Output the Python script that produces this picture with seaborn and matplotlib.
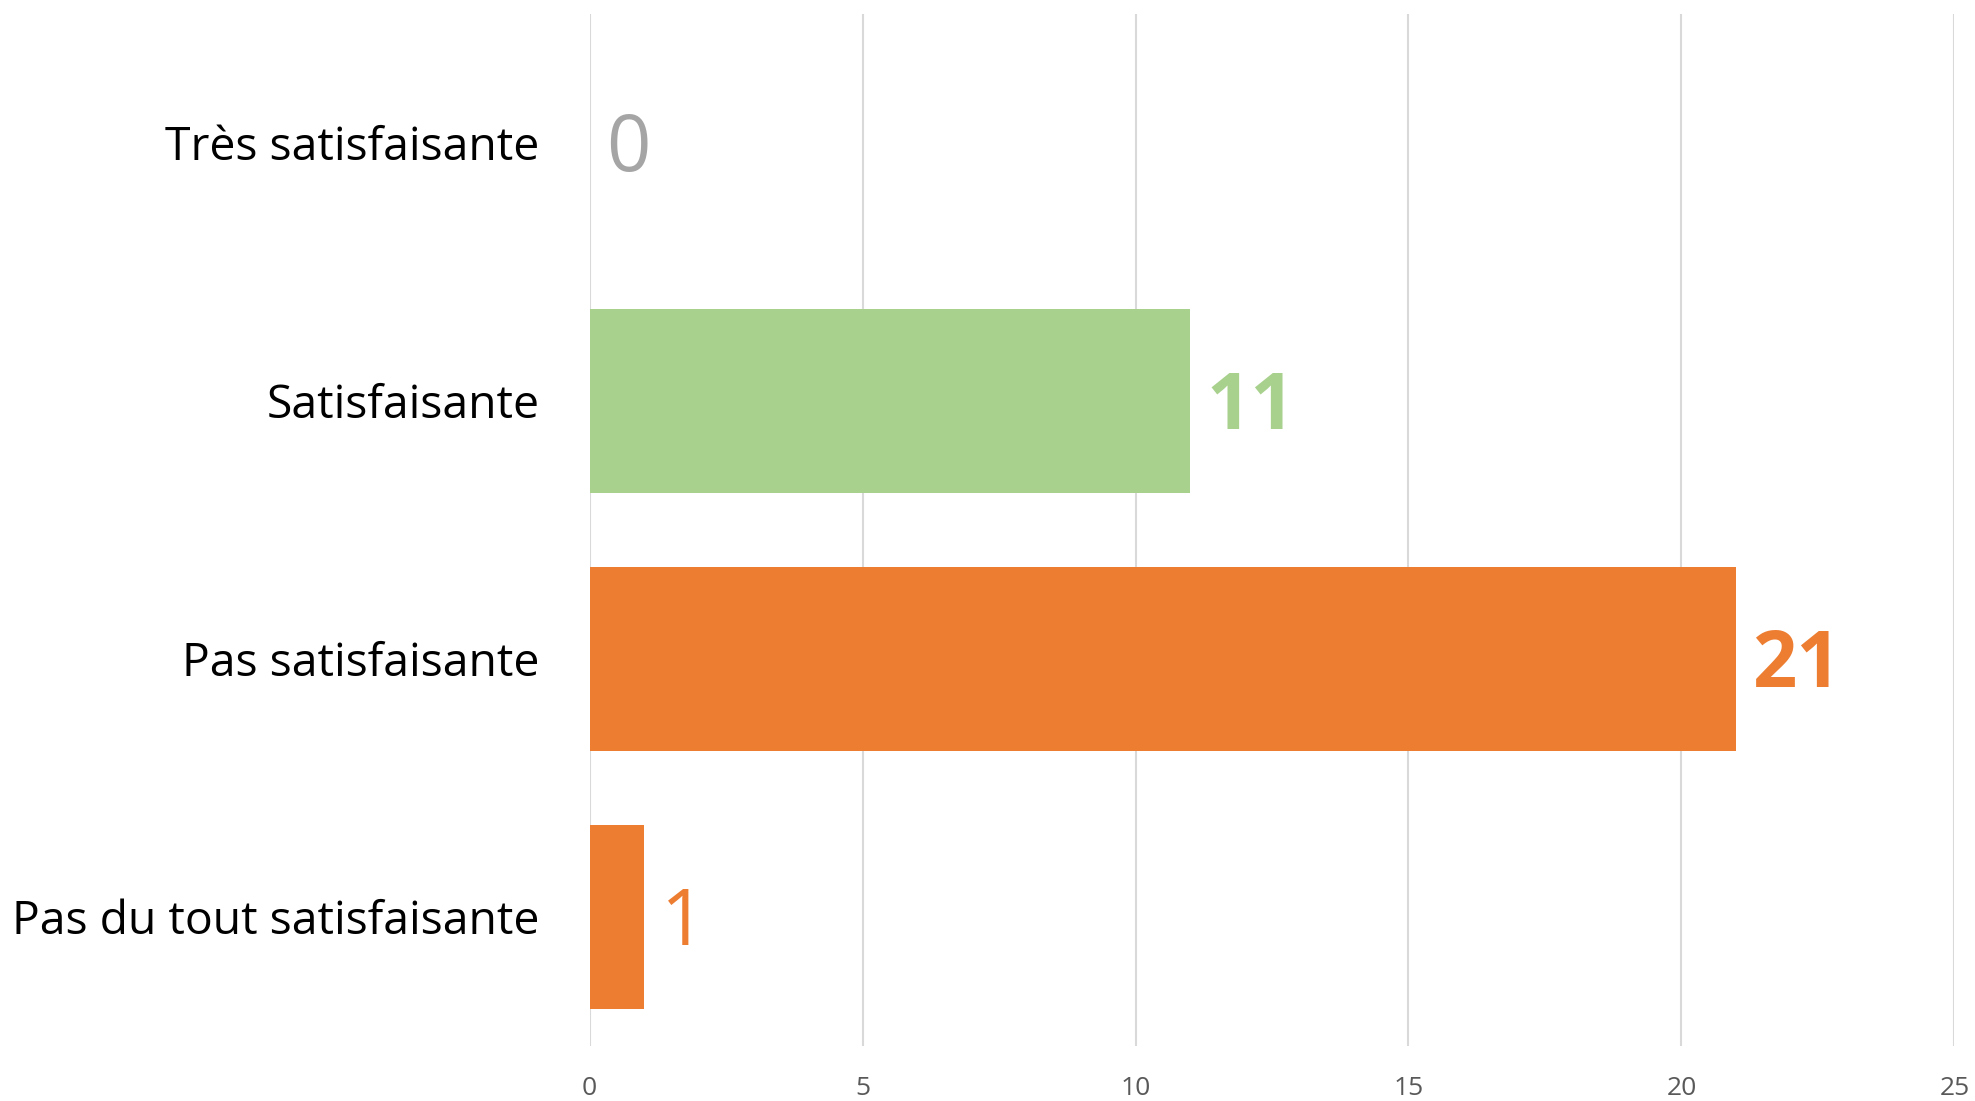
import matplotlib
matplotlib.use("Agg")
import matplotlib.pyplot as plt
from matplotlib.transforms import offset_copy
import seaborn as sns
import pandas as pd

categories = ["Très satisfaisante", "Satisfaisante", "Pas satisfaisante", "Pas du tout satisfaisante"]
counts = [0, 11, 21, 1]
bar_colors = ["#A5A5A5", "#A9D18E", "#ED7D31", "#ED7D31"]
label_weights = ["normal", "bold", "bold", "normal"]
x_ticks = [0, 5, 10, 15, 20, 25]

sns.set_theme(style="white")
plt.rcParams["font.family"] = ["Open Sans", "DejaVu Sans"]

df = pd.DataFrame({"categorie": categories, "nombre": counts})

fig = plt.figure(figsize=(19.75, 11.01), dpi=100)
ax = fig.add_axes([0.2985, 0.0502, 0.6911, 0.9371])

sns.barplot(data=df, y="categorie", x="nombre", hue="categorie",
            palette=dict(zip(categories, bar_colors)), order=categories,
            width=0.713, legend=False, ax=ax, saturation=1, linewidth=0)

ax.set_xlim(0, 25)
ax.set_xticks(x_ticks)
ax.set_xticklabels([str(t) for t in x_ticks], fontsize=19, color="#595959")
ax.set_xlabel("")
ax.set_ylabel("")
ax.tick_params(axis="y", labelsize=33.3, colors="black", length=0, pad=36)
ax.tick_params(axis="x", length=0, pad=22)
ax.grid(axis="x", color="#D9D9D9", linewidth=1.5)
ax.set_axisbelow(True)
for s in ax.spines.values():
    s.set_visible(False)

# value labels, baseline placed so the digits sit centred on each bar
label_tr = offset_copy(ax.transData, fig=fig, x=0, y=-20, units="points")
for i, (v, c, w) in enumerate(zip(counts, bar_colors, label_weights)):
    ax.text(v + 0.3, i, str(v), color=c, fontsize=56, fontweight=w,
            va="baseline", ha="left", transform=label_tr)

fig.savefig("out.png", dpi=100)
